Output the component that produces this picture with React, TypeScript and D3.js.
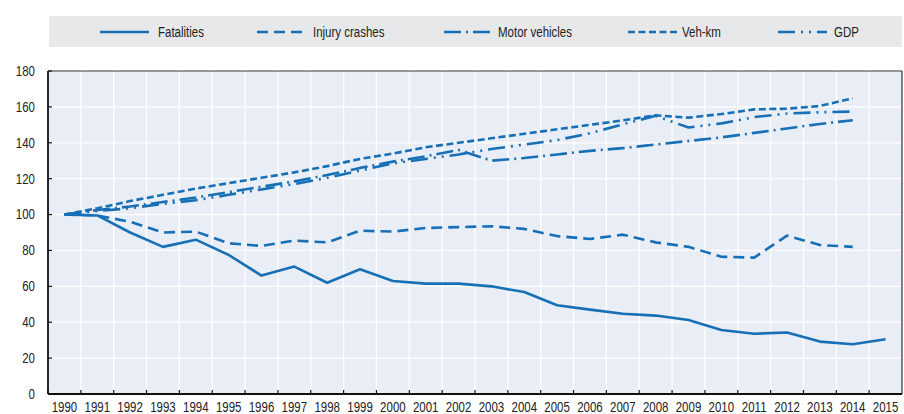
import React from "react"
import * as d3 from "d3"

const years = [
  "1990", "1991", "1992", "1993", "1994", "1995", "1996", "1997", "1998",
  "1999", "2000", "2001", "2002", "2003", "2004", "2005", "2006", "2007",
  "2008", "2009", "2010", "2011", "2012", "2013", "2014", "2015",
]

const fatalities = [
  100, 99.5, 90, 82, 86, 77.5, 66, 71, 62, 69.5, 63, 61.5, 61.5, 60, 56.8,
  49.5, 47, 44.7, 43.7, 41.2, 35.7, 33.6, 34.3, 29.2, 27.7, 30.5,
]
const injuryCrashes = [
  100, 99.5, 96, 90, 90.5, 84, 82.5, 85.5, 84.5, 91, 90.5, 92.5, 93, 93.5, 92,
  88, 86.4, 88.8, 84.5, 82, 76.5, 76, 88.3, 83, 82,
]
const motorVehicles = [
  100, 102.5, 104.5, 107, 109.5, 112.5, 115.5, 118.5, 122, 126, 129.5, 132.5,
  136, 130, 131.5, 133.5, 135.5, 137, 139, 141, 143, 145.5, 148, 150.5, 152.6,
]
const vehKm = [
  100, 103.5, 107.5, 111, 114.5, 117.5, 120.5, 123.5, 127, 131, 134, 137.5,
  140, 142.5, 145, 147.5, 150, 152.5, 155.3, 154, 156, 158.6, 159, 160.5, 164.8,
]
const gdp = [
  100, 102, 103.5, 106, 108, 111, 114, 117, 120.5, 124.5, 128.5, 131, 133.5,
  136.5, 139, 141.5, 145.3, 150.3, 155, 148.5, 150.8, 154.3, 156.3, 157, 157.4,
]

const yTicks = [0, 20, 40, 60, 80, 100, 120, 140, 160, 180]

const seriesNames = ["Fatalities", "Injury crashes", "Motor vehicles", "Veh-km", "GDP"]
const seriesValues = [fatalities, injuryCrashes, motorVehicles, vehKm, gdp]
const dashes = ["none", "11,6", "17,5,2,5", "7,3.5", "17,6,2,6,2,6"]

// legend positions
const legendLineX = [100, 257, 444, 628, 778]
const legendTextX = [158, 313, 498, 682, 834]

const BLUE = "#1770b6"
const FONT = '"Liberation Sans", Arial, sans-serif'
const SQUEEZE = 0.82 // no narrow face installed, so squash Arial-metric text

// text helper: narrow look via horizontal scale
const Narrow = (props: {
  x: number
  y: number
  anchor?: string
  dy?: string
  children: React.ReactNode
}) => (
  <text
    transform={`translate(${props.x},${props.y}) scale(${SQUEEZE},1)`}
    dy={props.dy}
    textAnchor={props.anchor || "start"}
    fontSize={14}
    fill="#222"
  >
    {props.children}
  </text>
)

const App = () => {
  const width = 904
  const height = 414
  const margin = { top: 71, right: 2, bottom: 20, left: 48 }
  const innerBottom = height - margin.bottom
  const innerRight = width - margin.right

  const x = d3.scaleBand().domain(years).range([margin.left, innerRight]).padding(0)
  const y = d3.scaleLinear().domain([0, 180]).range([innerBottom, margin.top])
  const bw = x.bandwidth()

  const line = d3
    .line<number>()
    .x((_, i) => x(years[i])! + bw / 2)
    .y((d) => y(d))

  return (
    <svg
      width={width}
      height={height}
      style={{ position: "absolute", left: 0, top: 0, fontFamily: FONT }}
    >
      <rect x={0} y={0} width={width} height={height} fill="#ffffff" />

      {/* legend */}
      <rect x={49} y={16} width={853} height={31} fill="#e7e8ea" />
      {seriesNames.map((name, i) => (
        <g key={name}>
          <line
            x1={legendLineX[i]}
            x2={legendLineX[i] + 49}
            y1={32}
            y2={32}
            stroke={BLUE}
            strokeWidth={2.6}
            strokeDasharray={dashes[i] === "none" ? undefined : dashes[i]}
          />
          <Narrow x={legendTextX[i]} y={32} dy="0.35em">
            {name}
          </Narrow>
        </g>
      ))}

      {/* plot area */}
      <rect
        x={margin.left}
        y={margin.top}
        width={innerRight - margin.left}
        height={innerBottom - margin.top}
        fill="#e9edf5"
      />
      {yTicks.slice(1).map((t) => (
        <line
          key={"h" + t}
          x1={margin.left}
          x2={innerRight}
          y1={y(t)}
          y2={y(t)}
          stroke="#ffffff"
          strokeWidth={1.3}
        />
      ))}
      {years.slice(1).map((yr) => (
        <line
          key={"v" + yr}
          x1={x(yr)!}
          x2={x(yr)!}
          y1={margin.top}
          y2={innerBottom}
          stroke="#ffffff"
          strokeWidth={1.3}
        />
      ))}

      {/* frame */}
      <line x1={margin.left} x2={innerRight} y1={margin.top} y2={margin.top} stroke="#333" strokeWidth={1.2} />
      <line x1={innerRight} x2={innerRight} y1={margin.top} y2={innerBottom} stroke="#333" strokeWidth={1.2} />

      {/* series */}
      {seriesValues.map((vals, i) => (
        <path
          key={seriesNames[i]}
          d={line(vals)!}
          fill="none"
          stroke={BLUE}
          strokeWidth={2.6}
          strokeLinejoin="round"
          strokeDasharray={dashes[i] === "none" ? undefined : dashes[i]}
        />
      ))}

      {/* axes */}
      <line x1={margin.left} x2={margin.left} y1={margin.top} y2={innerBottom} stroke="#111" strokeWidth={1.8} />
      <line x1={margin.left} x2={innerRight} y1={innerBottom} y2={innerBottom} stroke="#111" strokeWidth={1.8} />
      {yTicks.map((t) => (
        <g key={"yt" + t}>
          <line x1={margin.left} x2={margin.left + 4} y1={y(t)} y2={y(t)} stroke="#111" strokeWidth={1.2} />
          <Narrow x={35} y={y(t)} dy="0.35em" anchor="end">
            {t}
          </Narrow>
        </g>
      ))}
      {years.map((yr) => (
        <g key={"xt" + yr}>
          <line x1={x(yr)!} x2={x(yr)!} y1={innerBottom} y2={innerBottom - 4} stroke="#111" strokeWidth={1.2} />
          <Narrow x={x(yr)! + bw / 2} y={411.5} anchor="middle">
            {yr}
          </Narrow>
        </g>
      ))}
    </svg>
  )
}

export default App
